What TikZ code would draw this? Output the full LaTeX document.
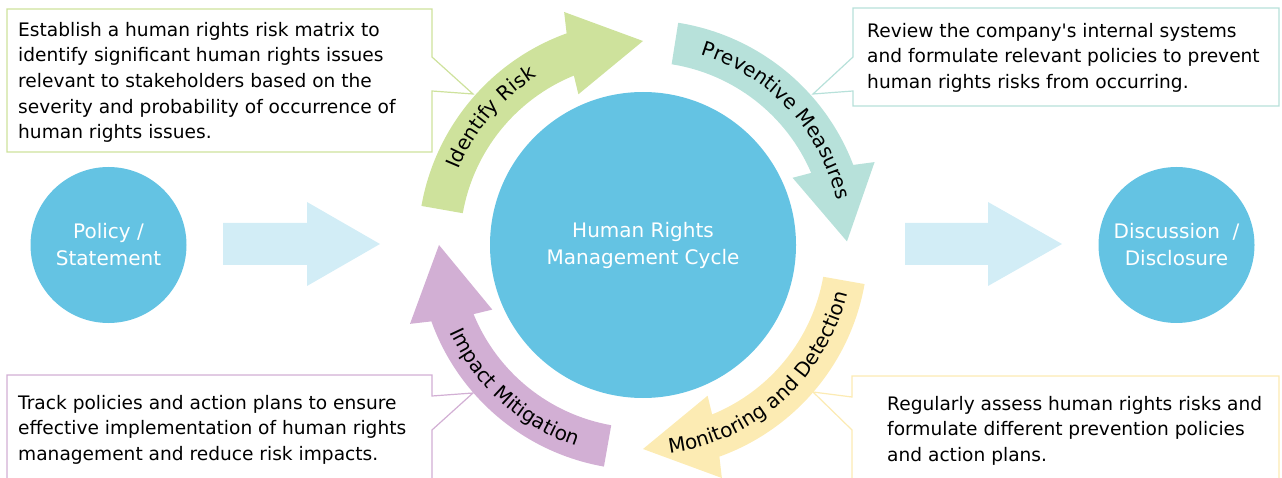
\documentclass[tikz,border=0pt]{standalone}
\usepackage{fontspec}
\setmainfont{DejaVu Sans}
\usepackage{xcolor}
\usetikzlibrary{
	decorations.text
}
\definecolor{ringblue}{HTML}{64C3E3}
\definecolor{paleblue}{HTML}{D2EDF6}
\definecolor{riskgreen}{HTML}{CEE29C}
\definecolor{preventteal}{HTML}{B7E1DA}
\definecolor{monitoryellow}{HTML}{FCEBB3}
\definecolor{mitigatepurple}{HTML}{D2AFD4}
\newcommand{\labelfont}{\fontsize{20}{20}\selectfont}
% arc arrow of the cycle, #1 = angle of the tip
\newcommand{\cyclearrow}[2]{%
	\fill[#2] ({#1+80}:225) arc[start angle={#1+80}, end angle={#1+19.85}, radius=225]
		-- ({#1+18.7}:246) -- (#1:204) -- ({#1+23.2}:164) -- ({#1+22.2}:183)
		arc[start angle={#1+22.2}, end angle={#1+80}, radius=183] -- cycle;}
\newcommand{\arclabel}[4]{%
	\path[decorate,decoration={text along path,text align=center,text={|\labelfont|#4}}]
		(#1:#3) arc[start angle=#1, end angle=#2, radius=#3];}

\begin{document}
\begin{tikzpicture}[x=1pt,y=1pt,
		bigdot/.style={circle,fill=ringblue,text=white,inner sep=0pt,align=center,font=\fontsize{20}{27}\selectfont},
		notebox/.style={draw=#1,fill=white,line width=1.2pt},
		notetext/.style={anchor=north west,inner sep=0pt,align=left,font=\fontsize{18.6}{25.6}\selectfont},
		flowarrow/.style={fill=paleblue}]
	\useasboundingbox (0,0) rectangle (1282,477);
	%
	\node[bigdot,minimum size=306] (cycle) at (643,232) {Human Rights\\Management Cycle};
	\node[bigdot,minimum size=156] (policy) at (108.5,232) {Policy /\\Statement};
	\node[bigdot,minimum size=156] (disclosure) at (1176.5,232) {Discussion~ /\\Disclosure};
	%
	\fill[flowarrow] (223,254) -- (307,254) -- (307,275) -- (380,233) -- (307,191) -- (307,212) -- (223,212) -- cycle;
	\fill[flowarrow] (905,254) -- (988,254) -- (988,275) -- (1062,233) -- (988,191) -- (988,212) -- (905,212) -- cycle;
	%
	\draw[notebox=riskgreen] (7,468) -- (432,468) -- (432,420) -- (473,383) -- (432,386) -- (432,325) -- (7,325) -- cycle;
	\draw[notebox=preventteal] (853,469) -- (1279,469) -- (1279,371) -- (853,371) -- (853,386) -- (813,383) -- (853,420) -- cycle;
	\draw[notebox=mitigatepurple] (7,102) -- (432,102) -- (432,81) -- (473,84) -- (432,47) -- (432,-5) -- (7,-5) -- cycle;
	\draw[notebox=monitoryellow] (852,101) -- (1279,101) -- (1279,-5) -- (852,-5) -- (852,47) -- (813,85) -- (852,80) -- cycle;
	%
	\node[notetext] (risktext) at (18,455) {Establish a human rights risk matrix to\\identify significant human rights issues\\relevant to stakeholders based on the\\severity and probability of occurrence of\\human rights issues.};
	\node[notetext] (preventtext) at (867,454) {Review the company\textquotesingle s internal systems\\and formulate relevant policies to prevent\\human rights risks from occurring.};
	\node[notetext] (mitigatetext) at (18,82) {Track policies and action plans to ensure\\effective implementation of human rights\\management and reduce risk impacts.};
	\node[notetext] (monitortext) at (887,81) {Regularly assess human rights risks and\\formulate different prevention policies\\and action plans.};
	%
	\begin{scope}[shift={(cycle.center)}]
		\cyclearrow{90}{riskgreen}
		\cyclearrow{1}{preventteal}
		\cyclearrow{-90}{monitoryellow}
		\cyclearrow{180}{mitigatepurple}
		\arclabel{166}{114}{199}{Identify Risk}
		\arclabel{82}{4}{199}{Preventive Measures}
		\arclabel{-88}{-8}{210}{Monitoring and Detection}
		\arclabel{196}{260}{212}{Impact Mitigation}
	\end{scope}
\end{tikzpicture}
\end{document}
